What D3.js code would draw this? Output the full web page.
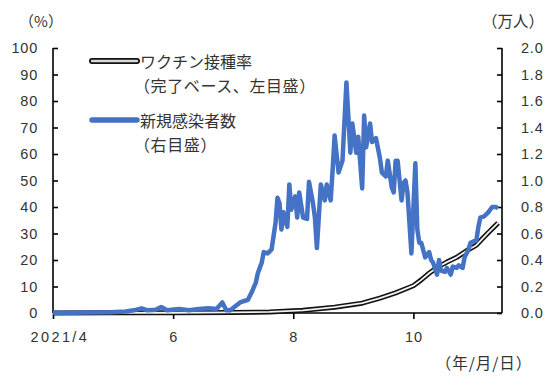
<!DOCTYPE html>
<html>
<head>
<meta charset="utf-8">
<script src="https://cdn.jsdelivr.net/npm/d3@7"></script>
<style>
  body { margin: 0; background: #fff; }
  text { font-family: "Liberation Sans", Arial, "Noto Sans CJK JP", sans-serif; fill: #333; }
  .jp { font-family: "Noto Sans CJK JP", sans-serif; }
</style>
</head>
<body>
<svg id="chart" width="547" height="378"></svg>
<script>
// Fully vaccinated share of population (%), left axis
const vacDates = ["2021-04-01","2021-05-01","2021-06-01","2021-07-01","2021-07-20","2021-08-06",
  "2021-08-22","2021-09-05","2021-09-14","2021-09-22","2021-10-01","2021-10-05","2021-10-09",
  "2021-10-13","2021-10-18","2021-10-23","2021-10-28","2021-11-02","2021-11-05","2021-11-08",
  "2021-11-11","2021-11-13"];
const vacRate = [0, 0.05, 0.1, 0.2, 0.4, 1.0, 2.2, 3.7, 5.6, 7.6, 10.3, 12.5, 15.0,
  17.2, 19.2, 21.0, 23.5, 25.6, 28.0, 30.3, 32.5, 34.0];

// Daily new cases (10,000 persons), right axis
const caseDates = ["2021-04-01","2021-04-10","2021-04-20","2021-04-30","2021-05-08","2021-05-12",
  "2021-05-16","2021-05-19","2021-05-23","2021-05-26","2021-05-29","2021-06-04","2021-06-09",
  "2021-06-14","2021-06-19","2021-06-23","2021-06-26","2021-06-28","2021-06-30","2021-07-05",
  "2021-07-09","2021-07-11","2021-07-13","2021-07-14","2021-07-16","2021-07-17","2021-07-19",
  "2021-07-21","2021-07-23","2021-07-24","2021-07-25","2021-07-26","2021-07-27","2021-07-29",
  "2021-07-30","2021-07-31","2021-08-02","2021-08-03","2021-08-04","2021-08-06","2021-08-08",
  "2021-08-09","2021-08-11","2021-08-12","2021-08-13","2021-08-15","2021-08-17","2021-08-18",
  "2021-08-20","2021-08-21","2021-08-22","2021-08-24","2021-08-26","2021-08-28","2021-08-30",
  "2021-08-31","2021-09-02","2021-09-03","2021-09-05","2021-09-06","2021-09-07","2021-09-09",
  "2021-09-10","2021-09-12","2021-09-14","2021-09-15","2021-09-17","2021-09-18","2021-09-20",
  "2021-09-21","2021-09-22","2021-09-23","2021-09-25","2021-09-26","2021-09-27","2021-09-28",
  "2021-09-30","2021-10-02","2021-10-03","2021-10-04","2021-10-05","2021-10-07","2021-10-09",
  "2021-10-10","2021-10-11","2021-10-13","2021-10-14","2021-10-15","2021-10-17","2021-10-18",
  "2021-10-20","2021-10-21","2021-10-23","2021-10-24","2021-10-26","2021-10-27","2021-10-29",
  "2021-10-30","2021-11-02","2021-11-03","2021-11-04","2021-11-06","2021-11-08","2021-11-10",
  "2021-11-12","2021-11-13"];
const caseValues = [0.002, 0.002, 0.003, 0.005, 0.012, 0.02,
  0.035, 0.02, 0.025, 0.045, 0.02, 0.03, 0.02,
  0.03, 0.035, 0.03, 0.08, 0.02, 0.02, 0.08,
  0.10, 0.16, 0.23, 0.30, 0.38, 0.46, 0.45,
  0.48, 0.68, 0.87, 0.83, 0.63, 0.76, 0.65,
  0.97, 0.78, 0.88, 0.72, 0.91, 0.72, 0.71,
  0.99, 0.83, 0.72, 0.49, 0.97, 0.85, 0.97,
  0.85, 1.08, 1.34, 1.06, 1.15, 1.74, 1.21,
  1.43, 1.21, 1.33, 0.94, 1.49, 1.25, 1.43,
  1.29, 1.32, 1.17, 1.06, 1.03, 1.15, 0.95,
  0.91, 1.15, 1.15, 0.85, 0.98, 1.00, 0.91,
  0.45, 1.13, 0.63, 0.53, 0.53, 0.42, 0.46,
  0.40, 0.38, 0.29, 0.40, 0.32, 0.31, 0.34,
  0.29, 0.35, 0.34, 0.36, 0.34, 0.42, 0.48,
  0.53, 0.55, 0.65, 0.72, 0.73, 0.76, 0.80,
  0.80, 0.79];

const leftTicks = [0, 10, 20, 30, 40, 50, 60, 70, 80, 90, 100];
const rightTicks = [0, 0.2, 0.4, 0.6, 0.8, 1.0, 1.2, 1.4, 1.6, 1.8, 2.0];
const xTickDates = ["2021-04-01", "2021-06-01", "2021-08-01", "2021-10-01"];
const xTickLabels = ["2021/4", "6", "8", "10"];
const legendLabels = [["ワクチン接種率", "（完了ベース、左目盛）"], ["新規感染者数", "（右目盛）"]];

const parse = d3.utcParse("%Y-%m-%d");
const blue = "#4472C4";

const svg = d3.select("#chart");
const plotL = 53, plotR = 502, plotT = 48, plotB = 313;

const x = d3.scaleUtc()
  .domain([parse("2021-04-01"), parse("2021-11-15")])
  .range([plotL, plotR]);
const yL = d3.scaleLinear().domain([0, 100]).range([plotB, plotT]);
const yR = d3.scaleLinear().domain([0, 2]).range([plotB, plotT]);

// Axes
const xAxis = d3.axisBottom(x)
  .tickValues(xTickDates.map(parse))
  .tickFormat((d, i) => xTickLabels[i])
  .tickSize(6).tickPadding(13);
const gx = svg.append("g").attr("transform", `translate(0,${plotB})`).call(xAxis);

const leftAxis = d3.axisLeft(yL).tickValues(leftTicks).tickSize(-5).tickPadding(15);
const gl = svg.append("g").attr("transform", `translate(${plotL},0)`).call(leftAxis);

const rightAxis = d3.axisRight(yR).tickValues(rightTicks).tickSize(-5).tickPadding(19)
  .tickFormat(d3.format(".1f"));
const gr = svg.append("g").attr("transform", `translate(${plotR},0)`).call(rightAxis);

[gx, gl, gr].forEach(g => {
  g.select(".domain").attr("stroke", "#000").attr("stroke-width", 1.6);
  g.selectAll(".tick line").attr("stroke", "#000").attr("stroke-width", 1.6);
  g.selectAll(".tick text").attr("fill", "#333").style("font-size", "14.5px")
    .style("letter-spacing", "0.8px");
});
// the year-month label sits a little wider, starting just left of the axis
gx.selectAll(".tick text").filter((d, i) => i === 0)
  .attr("text-anchor", "start").attr("x", -23).style("letter-spacing", "2.4px");
gx.select(".domain").attr("d", `M${plotL},0H${plotR}`);
gl.select(".domain").attr("d", `M0,${plotT}V${plotB}`);
gr.select(".domain").attr("d", `M0,${plotT}V${plotB}`);

// Vaccination line: black outline with a light core
const vacData = vacDates.map((d, i) => ({ date: parse(d), v: vacRate[i] }));
const vacLine = d3.line().x(d => x(d.date)).y(d => yL(d.v));
svg.append("path").datum(vacData).attr("d", vacLine)
  .attr("fill", "none").attr("stroke", "#111").attr("stroke-width", 5)
  .attr("stroke-linejoin", "round");
svg.append("path").datum(vacData).attr("d", vacLine)
  .attr("fill", "none").attr("stroke", "#f2f2f2").attr("stroke-width", 1.8)
  .attr("stroke-linejoin", "round");

// New cases line
const caseData = caseDates.map((d, i) => ({ date: parse(d), v: caseValues[i] }));
const caseLine = d3.line().x(d => x(d.date)).y(d => yR(d.v));
svg.append("path").datum(caseData).attr("d", caseLine)
  .attr("fill", "none").attr("stroke", blue).attr("stroke-width", 4.5)
  .attr("stroke-linejoin", "round");

// Unit labels
svg.append("text").attr("class", "jp").attr("x", 41).attr("y", 20)
  .attr("text-anchor", "middle").attr("dominant-baseline", "central")
  .style("font-size", "15px").text("（%）");
svg.append("text").attr("class", "jp").attr("x", 513).attr("y", 20)
  .attr("text-anchor", "middle").attr("dominant-baseline", "central")
  .style("font-size", "15.5px").text("（万人）");
svg.append("text").attr("class", "jp").attr("x", 484).attr("y", 362)
  .attr("text-anchor", "middle").attr("dominant-baseline", "central")
  .style("font-size", "15.5px").style("letter-spacing", "1px").text("（年/月/日）");

// Legend
const lg = svg.append("g");
const legendY = [61, 120];
// vaccination sample
lg.append("line").attr("x1", 92).attr("x2", 137).attr("y1", legendY[0]).attr("y2", legendY[0])
  .attr("stroke", "#111").attr("stroke-width", 6).attr("stroke-linecap", "round");
lg.append("line").attr("x1", 92).attr("x2", 137).attr("y1", legendY[0]).attr("y2", legendY[0])
  .attr("stroke", "#d8d8d8").attr("stroke-width", 2.4).attr("stroke-linecap", "round");
// cases sample
lg.append("line").attr("x1", 92).attr("x2", 137).attr("y1", legendY[1]).attr("y2", legendY[1])
  .attr("stroke", blue).attr("stroke-width", 5.5).attr("stroke-linecap", "round");

legendLabels.forEach((lines, i) => {
  lg.append("text").attr("class", "jp").attr("x", 140).attr("y", legendY[i])
    .attr("dominant-baseline", "central").style("font-size", "16px").text(lines[0]);
  lg.append("text").attr("class", "jp").attr("x", 134).attr("y", legendY[i] + 24)
    .attr("dominant-baseline", "central").style("font-size", "16px")
    .style("letter-spacing", "0.6px").text(lines[1]);
});
</script>
</body>
</html>
